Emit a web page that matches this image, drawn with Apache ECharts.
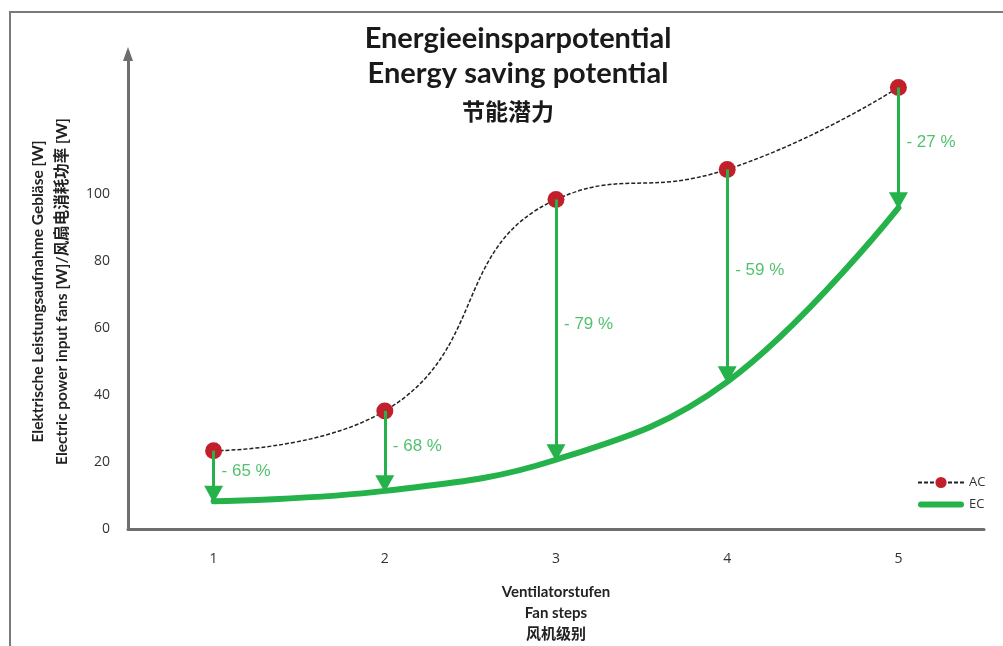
<!DOCTYPE html>
<html>
<head>
<meta charset="utf-8">
<script src="https://cdn.jsdelivr.net/npm/echarts@6/dist/echarts.min.js"></script>
<style>
html,body{margin:0;padding:0;background:#fff;}
#chart{width:1003px;height:646px;}
</style>
</head>
<body>
<div id="chart"></div>
<script>
const categories = ['1', '2', '3', '4', '5'];
const acValues = [23.4, 35.3, 98.5, 107.5, 132];
const ecValues = [8.3, 11.4, 20.7, 44, 96];
const savingsPct = [65, 68, 79, 59, 27];
const yLabelMax = 100;

const green = '#25b24a';
const red = '#c1202b';

const chart = echarts.init(document.getElementById('chart'));

const arrowData = categories.map((c, i) => [
  { coord: [c, acValues[i]] },
  { coord: [c, ecValues[i]] }
]);

const labelData = categories.map((c, i) => ({
  value: [c, (acValues[i] + ecValues[i]) / 2],
  pct: savingsPct[i]
}));

const fontLatin = "Lato, 'Noto Sans CJK SC', sans-serif";

chart.setOption({
  animation: false,
  backgroundColor: '#fff',
  title: [
    { text: 'Energieeinsparpotential', left: 513, top: 19, textAlign: 'center',
      textStyle: { fontSize: 29, fontWeight: 'bold', fontFamily: fontLatin, color: '#1a1a1a' } },
    { text: 'Energy saving potential', left: 513, top: 54, textAlign: 'center',
      textStyle: { fontSize: 29, fontWeight: 'bold', fontFamily: fontLatin, color: '#1a1a1a' } },
    { text: '节能潜力', left: 503, top: 95, textAlign: 'center',
      textStyle: { fontSize: 23, fontWeight: 'bold', fontFamily: 'Noto Sans CJK SC', color: '#1a1a1a' } }
  ],
  graphic: [
    { type: 'rect', shape: { x: 10, y: 12, width: 1200, height: 900 },
      style: { fill: 'none', stroke: '#7a7a7a', lineWidth: 2 }, silent: true }
  ],
  legend: {
    orient: 'vertical',
    left: 912,
    top: 471,
    itemWidth: 46,
    itemHeight: 14,
    itemGap: 9,
    data: [
      { name: 'AC' },
      { name: 'EC', icon: 'path://M3,0 H43 A3,3 0 0 1 43,6 H3 A3,3 0 0 1 3,0 Z' }
    ],
    textStyle: { fontSize: 13, fontFamily: 'Open Sans', color: '#333' }
  },
  grid: { left: 128, right: 19, top: 54, bottom: 117, containLabel: false, outerBoundsMode: 'none' },
  xAxis: {
    type: 'category',
    data: categories,
    boundaryGap: true,
    axisLine: { show: true, lineStyle: { color: '#6e6e6e', width: 3 } },
    axisTick: { show: false },
    axisLabel: { margin: 23, fontSize: 14, fontFamily: 'Open Sans', color: '#333' },
    splitLine: { show: false },
    name: 'Ventilatorstufen\nFan steps\n风机级别',
    nameLocation: 'middle',
    nameGap: 53,
    nameTextStyle: { fontSize: 15, fontWeight: 'bold', fontFamily: fontLatin, color: '#222', lineHeight: 21 }
  },
  yAxis: {
    type: 'value',
    min: 0,
    max: 142,
    interval: 20,
    axisLine: { show: true, symbol: ['none', 'triangle'], symbolSize: [10, 14],
      lineStyle: { color: '#6e6e6e', width: 3 } },
    axisTick: { show: false },
    splitLine: { show: false },
    axisLabel: {
      margin: 18, fontSize: 14, fontFamily: 'Open Sans', color: '#333',
      formatter: v => (v <= yLabelMax ? String(v) : '')
    },
    name: 'Elektrische Leistungsaufnahme Gebläse [W]\nElectric power input fans [W]/风扇电消耗功率 [W]',
    nameLocation: 'middle',
    nameRotate: 90,
    nameGap: 54,
    nameTextStyle: { fontSize: 15.5, fontWeight: 'bold', fontFamily: fontLatin, color: '#222', lineHeight: 24 }
  },
  series: [
    {
      name: 'EC',
      type: 'line',
      data: ecValues,
      smooth: 0.4,
      symbol: 'none',
      z: 2,
      lineStyle: { color: green, width: 6, cap: 'round' },
      itemStyle: { color: green }
    },
    {
      name: 'arrows',
      type: 'line',
      data: [],
      z: 3,
      markLine: {
        silent: true,
        symbol: ['none', 'triangle'],
        symbolSize: [19, 17],
        symbolOffset: [[0, 0], [0, 7]],
        lineStyle: { color: green, width: 3, type: 'solid' },
        label: { show: false },
        data: arrowData
      }
    },
    {
      name: 'labels',
      type: 'scatter',
      data: labelData,
      symbolSize: 0,
      z: 3,
      label: {
        show: true,
        position: 'right',
        distance: 8,
        offset: [0, -5],
        color: green,
        fontSize: 17,
        fontFamily: 'Liberation Sans',
        formatter: p => '- ' + p.data.pct + ' %'
      }
    },
    {
      name: 'AC',
      type: 'line',
      data: acValues,
      smooth: true,
      symbol: 'circle',
      symbolSize: 17,
      z: 4,
      lineStyle: { color: '#222', width: 1.5, type: [4, 2] },
      itemStyle: { color: red }
    }
  ]
});
</script>
</body>
</html>
